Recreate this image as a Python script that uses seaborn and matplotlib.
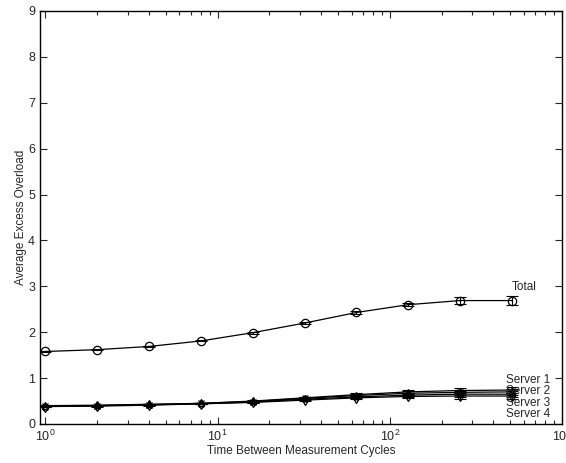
import matplotlib
matplotlib.use("Agg")
import matplotlib.pyplot as plt
import seaborn as sns
import numpy as np
import pandas as pd

x_vals = [1, 2, 4, 8, 16, 32, 64, 128, 256, 512]
total = [1.58, 1.62, 1.69, 1.81, 1.99, 2.20, 2.43, 2.60, 2.69, 2.69]
total_err = [0.01, 0.01, 0.01, 0.01, 0.02, 0.02, 0.03, 0.03, 0.07, 0.09]
server1 = [0.40, 0.41, 0.43, 0.45, 0.50, 0.57, 0.64, 0.70, 0.73, 0.74]
server2 = [0.39, 0.40, 0.42, 0.45, 0.49, 0.56, 0.62, 0.67, 0.69, 0.70]
server3 = [0.38, 0.40, 0.42, 0.44, 0.48, 0.54, 0.59, 0.63, 0.65, 0.65]
server4 = [0.38, 0.39, 0.41, 0.44, 0.47, 0.52, 0.57, 0.60, 0.61, 0.61]
server_err = [0.01, 0.01, 0.01, 0.01, 0.02, 0.02, 0.03, 0.04, 0.06, 0.07]
series_names = ["Total", "Server 1", "Server 2", "Server 3", "Server 4"]
x_label = "Time Between Measurement Cycles"
y_label = "Average Excess Overload"

sns.set_style("ticks")
plt.rcParams['font.family'] = ['Liberation Sans', 'DejaVu Sans']
plt.rcParams['mathtext.fontset'] = 'custom'
plt.rcParams['mathtext.rm'] = 'Liberation Sans'

fig = plt.figure(figsize=(5.66, 4.63), dpi=100)
ax = fig.add_axes([40/566, 1-424/463, (562-40)/566, (424-11)/463])

series = [total, server1, server2, server3, server4]
errs = [total_err, server_err, server_err, server_err, server_err]
markers = ['o', '^', 'x', '*', 'd']
msizes = [6, 5, 5, 6, 5]

for name, ys, er, mk, ms in zip(series_names, series, errs, markers, msizes):
    df = pd.DataFrame({"x": x_vals, "y": ys})
    ax.errorbar(x_vals, ys, yerr=er, fmt='none', ecolor='black',
                elinewidth=0.8, capsize=4, capthick=0.8, zorder=2)
    sns.lineplot(data=df, x="x", y="y", ax=ax, color='black', linewidth=0.9,
                 marker=mk, markersize=ms, markerfacecolor='none',
                 markeredgecolor='black', markeredgewidth=0.9, zorder=3)

ax.set_xscale('log')
ax.set_xlim(0.93, 1000)
ax.set_ylim(0, 9)
ax.set_yticks(range(0, 10))
ax.set_xlabel(x_label, fontsize=8.5, labelpad=1)
ax.set_ylabel(y_label, fontsize=8.5, labelpad=1)
ax.tick_params(axis='both', which='both', direction='in', top=True, right=True,
               labelsize=9, width=0.8)
ax.tick_params(axis='both', which='major', length=5)
ax.tick_params(axis='both', which='minor', length=3)
for sp in ax.spines.values():
    sp.set_linewidth(1.0)
    sp.set_color('black')

ax.text(513, 2.98, series_names[0], fontsize=8.5, ha='left', va='center')
label_y = [0.96, 0.72, 0.46, 0.22]
for nm, ly in zip(series_names[1:], label_y):
    ax.text(850, ly, nm, fontsize=8.5, ha='right', va='center')

fig.savefig("out.png", dpi=100)
